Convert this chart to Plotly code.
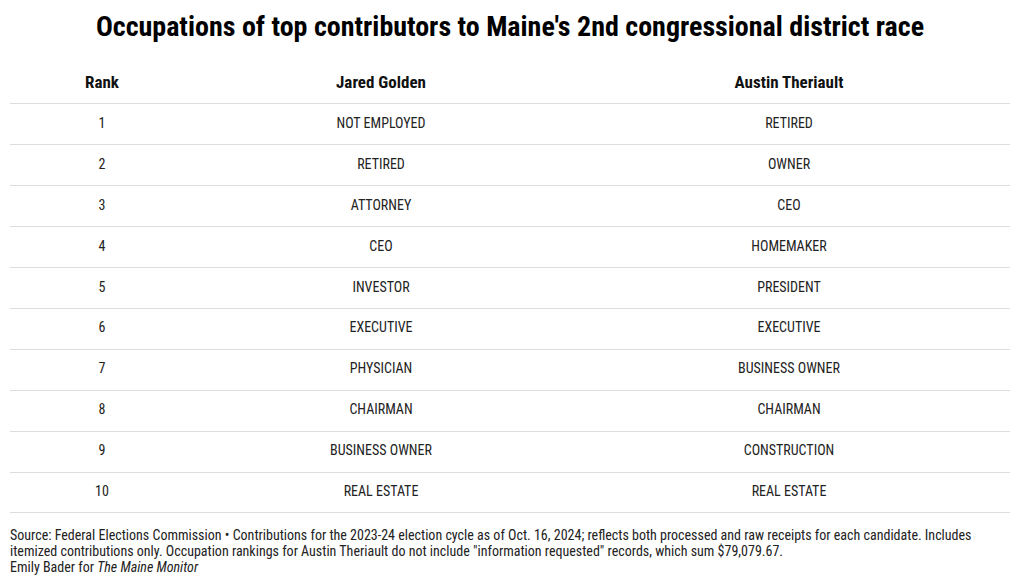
import plotly.graph_objects as go

# Table content
ranks = [1, 2, 3, 4, 5, 6, 7, 8, 9, 10]
golden = ["NOT EMPLOYED", "RETIRED", "ATTORNEY", "CEO", "INVESTOR",
          "EXECUTIVE", "PHYSICIAN", "CHAIRMAN", "BUSINESS OWNER", "REAL ESTATE"]
theriault = ["RETIRED", "OWNER", "CEO", "HOMEMAKER", "PRESIDENT",
             "EXECUTIVE", "BUSINESS OWNER", "CHAIRMAN", "CONSTRUCTION", "REAL ESTATE"]
headers = ["Rank", "Jared Golden", "Austin Theriault"]

title = "Occupations of top contributors to Maine's 2nd congressional district race"
note_lines = [
    "Source: Federal Elections Commission \u2022 Contributions for the 2023-24 election cycle as of Oct. 16, 2024; "
    "reflects both processed and raw receipts for each candidate. Includes",
    "itemized contributions only. Occupation rankings for Austin Theriault do not include "
    "\"information requested\" records, which sum $79,079.67.",
    "Emily Bader for <i>The Maine Monitor</i>",
]

FONT = "Roboto Condensed, Liberation Sans Narrow, Roboto, sans-serif"

# Column widths in pixels (like a table's columnwidth), centres computed from them
col_widths = [184, 374, 442]
col_x = []
left = 0
for w in col_widths:
    col_x.append(left + w / 2)
    left += w

fig = go.Figure()

# Body cells, one trace per column
for cx, vals in zip(col_x, [[str(r) for r in ranks], golden, theriault]):
    fig.add_trace(go.Scatter(
        x=[cx] * len(ranks), y=ranks, text=vals, mode="text",
        textposition="middle center", cliponaxis=False, hoverinfo="skip",
        textfont=dict(family=FONT, size=14, color="#222222"),
        showlegend=False,
    ))

# Header row
fig.add_trace(go.Scatter(
    x=col_x, y=[0] * len(headers), text=[f"<b>{h}</b>" for h in headers], mode="text",
    textposition="middle center", cliponaxis=False, hoverinfo="skip",
    textfont=dict(family=FONT, size=17, color="#111111"),
    showlegend=False,
))

# Row separators come from the y grid
row_lines = [0.5] + [r + 0.5 for r in ranks]

# Footer, one annotation per line for tight line spacing
footer = []
for i, line in enumerate(note_lines):
    footer.append(dict(
        text=line, xref="paper", yref="paper", x=0, y=-0.0395 - 0.035 * i,
        xanchor="left", yanchor="middle", align="left", showarrow=False, xshift=-2,
        font=dict(family=FONT, size=14, color="#222222"),
    ))

fig.update_layout(
    width=1020, height=585,
    margin=dict(l=10, r=10, t=59, b=68),
    paper_bgcolor="white", plot_bgcolor="white",
    title=dict(text=f"<b>{title}</b>", x=0.5, xanchor="center", y=0.955, yanchor="middle",
               font=dict(family=FONT, size=28, color="#000000")),
    xaxis=dict(range=[0, sum(col_widths)], visible=False, fixedrange=True),
    yaxis=dict(range=[10.6, -0.6], tickvals=row_lines, showticklabels=False,
               showgrid=True, gridcolor="#dddddd", gridwidth=1,
               zeroline=False, showline=False, ticks="", fixedrange=True),
    annotations=footer,
)

fig.write_html("out.html", config={"displayModeBar": False},
               post_script="document.body.style.margin='0';")
